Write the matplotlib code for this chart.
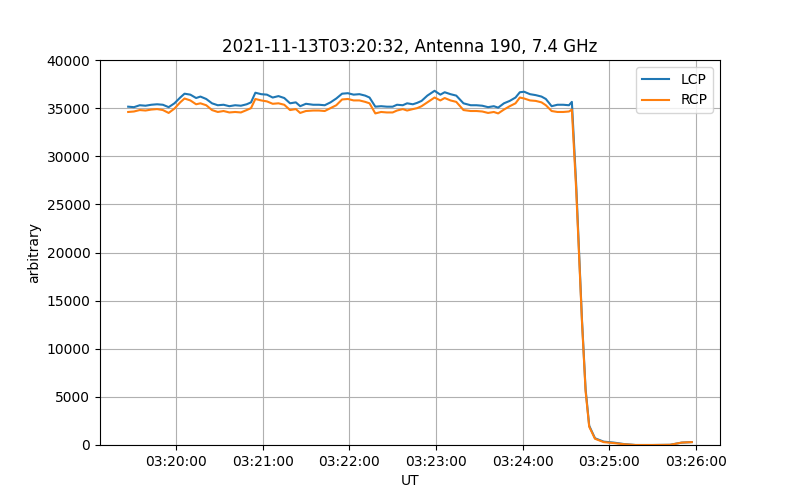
import matplotlib
matplotlib.use("Agg")
import matplotlib.pyplot as plt
import matplotlib.dates as mdates
import pandas as pd

# seconds after 03:20:00 UT
t_sec = [-33, -29, -25, -21, -17, -13, -9, -5, -1, 3, 6, 10, 14, 17, 21, 25, 29,
         33, 37, 41, 45, 49, 52, 55, 59, 63, 67, 71, 75, 79, 83, 86, 90, 95, 99,
         103, 107, 111, 115, 119, 123, 127, 131, 134, 138, 142, 146, 150, 153,
         157, 160, 164, 167, 170, 174, 179, 183, 186, 190, 194, 199, 204, 208,
         212, 216, 220, 223, 227, 231, 235, 238, 241, 245, 249, 253, 256, 260,
         264, 268, 272, 274, 277, 281, 283.5, 286, 290, 296, 303, 310, 318, 330,
         342, 350, 357]

lcp = [35150, 35100, 35300, 35250, 35350, 35400, 35350, 35100, 35500, 36100,
       36500, 36400, 36050, 36200, 35950, 35500, 35300, 35350, 35200, 35300,
       35250, 35400, 35600, 36600, 36450, 36400, 36100, 36250, 36050, 35500,
       35600, 35200, 35450, 35350, 35350, 35300, 35600, 36000, 36500, 36550,
       36400, 36450, 36300, 36100, 35150, 35200, 35150, 35150, 35350, 35300,
       35500, 35400, 35550, 35750, 36300, 36800, 36400, 36650, 36450, 36300,
       35500, 35300, 35300, 35250, 35100, 35200, 35050, 35500, 35750, 36100,
       36650, 36700, 36450, 36350, 36200, 35950, 35200, 35350, 35350, 35300,
       35650, 27000, 13000, 5800, 2000, 700, 350, 250, 100, 0, 0, 20, 250, 300]

rcp = [34600, 34650, 34800, 34750, 34850, 34900, 34800, 34500, 34950, 35600,
       36000, 35800, 35400, 35500, 35300, 34800, 34600, 34700, 34550, 34600,
       34550, 34800, 35000, 35950, 35800, 35700, 35450, 35500, 35350, 34800,
       34900, 34500, 34700, 34750, 34750, 34700, 35000, 35300, 35900, 35950,
       35800, 35800, 35650, 35500, 34450, 34600, 34550, 34550, 34750, 34900,
       34750, 34900, 35000, 35200, 35600, 36100, 35800, 36050, 35800, 35650,
       34800, 34700, 34700, 34650, 34500, 34600, 34450, 34850, 35200, 35500,
       36100, 36000, 35800, 35750, 35600, 35300, 34700, 34600, 34600, 34650,
       34850, 26500, 12800, 5600, 1900, 650, 300, 200, 80, 0, 0, 20, 250, 300]

t0 = pd.Timestamp("2021-11-13 03:20:00")
times = [t0 + pd.Timedelta(seconds=s) for s in t_sec]

fig, ax = plt.subplots(figsize=(8, 5), dpi=100)
ax.plot(times, lcp, label="LCP")
ax.plot(times, rcp, label="RCP")
ax.set_ylim(0, 40000)
ax.xaxis.set_major_locator(mdates.MinuteLocator())
ax.xaxis.set_major_formatter(mdates.DateFormatter("%H:%M:%S"))
ax.set_title("2021-11-13T03:20:32, Antenna 190, 7.4 GHz")
ax.set_xlabel("UT")
ax.set_ylabel("arbitrary")
ax.grid(True)
ax.legend(loc="upper right")

plt.savefig("out.png")
plt.close()
